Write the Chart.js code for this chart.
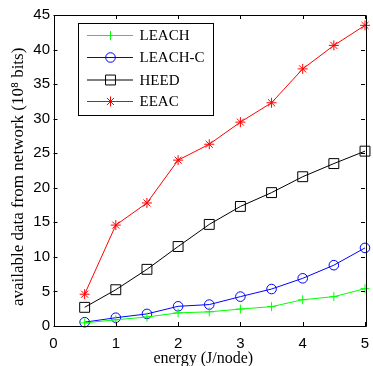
<!DOCTYPE html>
<html>
<head>
<meta charset="utf-8">
<script src="https://cdn.jsdelivr.net/npm/chart.js@4.4.1/dist/chart.umd.min.js"></script>
<style>
html,body{margin:0;padding:0;background:#fff;}
#c{display:block;}
</style>
</head>
<body>
<canvas id="c" width="373" height="366"></canvas>
<script>
const energy = [0.5, 1, 1.5, 2, 2.5, 3, 3.5, 4, 4.5, 5];
const leach  = [0.45, 0.9, 1.3, 1.9, 2.05, 2.45, 2.8, 3.8, 4.25, 5.4];
const leachC = [0.55, 1.2, 1.75, 2.85, 3.1, 4.25, 5.35, 6.9, 8.8, 11.3];
const heed   = [2.7, 5.25, 8.2, 11.5, 14.7, 17.3, 19.3, 21.6, 23.5, 25.3];
const eeac   = [4.6, 14.6, 17.8, 24.0, 26.3, 29.5, 32.3, 37.2, 40.6, 43.5];
const seriesNames = ["LEACH", "LEACH-C", "HEED", "EEAC"];
const xTicks = [0, 1, 2, 3, 4, 5];
const yTicks = [0, 5, 10, 15, 20, 25, 30, 35, 40, 45];
const xTitle = "energy (J/node)   ";
const yTitle = "available data from network (10\u2078 bits)   ";

function pts(ys){ return energy.map((x,i)=>({x:x, y:ys[i]})); }

const styles = [
  {color:'#00ff00', pointStyle:'cross', radius:4.5},
  {color:'#0000ff', pointStyle:'circle', radius:4.8},
  {color:'#000000', pointStyle:'rect', radius:7},
  {color:'#ff0000', pointStyle:'star', radius:5}
];
const allData = [leach, leachC, heed, eeac];

const datasets = allData.map((d,i)=>({
  label: seriesNames[i],
  data: pts(d),
  borderColor: styles[i].color,
  backgroundColor: 'rgba(0,0,0,0)',
  pointBorderColor: styles[i].color,
  pointBackgroundColor: 'rgba(0,0,0,0)',
  pointStyle: styles[i].pointStyle,
  pointRadius: styles[i].radius,
  pointBorderWidth: 1,
  borderWidth: 1,
  tension: 0,
  clip: false
}));

const framePlugin = {
  id: 'frame',
  afterDatasetsDraw(chart){
    const ctx = chart.ctx;
    const a = chart.chartArea;
    const xs = chart.scales.x, ys = chart.scales.y;
    ctx.save();
    ctx.strokeStyle = '#000';
    ctx.lineWidth = 1;
    ctx.beginPath();
    ctx.rect(Math.round(a.left)+0.5, Math.round(a.top)+0.5, Math.round(a.right-a.left), Math.round(a.bottom-a.top));
    ctx.stroke();
    const tl = 4;
    ctx.beginPath();
    xTicks.forEach(v=>{
      const px = Math.round(xs.getPixelForValue(v))+0.5;
      ctx.moveTo(px, a.bottom); ctx.lineTo(px, a.bottom - tl);
      ctx.moveTo(px, a.top); ctx.lineTo(px, a.top + tl);
    });
    yTicks.forEach(v=>{
      const py = Math.round(ys.getPixelForValue(v))+0.5;
      ctx.moveTo(a.left, py); ctx.lineTo(a.left + tl, py);
      ctx.moveTo(a.right, py); ctx.lineTo(a.right - tl, py);
    });
    ctx.stroke();

    // legend
    const bx = 78.5, by = 23.5, bw = 135, bh = 92;
    ctx.fillStyle = '#fff';
    ctx.fillRect(bx, by, bw, bh);
    ctx.strokeStyle = '#000';
    ctx.strokeRect(bx, by, bw, bh);
    const rowY = [35.5, 57.5, 80, 101.5];
    chart.data.datasets.forEach((ds,i)=>{
      const y = rowY[i];
      ctx.strokeStyle = ds.borderColor;
      ctx.lineWidth = 1;
      ctx.beginPath();
      ctx.moveTo(87, y); ctx.lineTo(133, y);
      ctx.stroke();
      ctx.fillStyle = 'rgba(0,0,0,0)';
      Chart.helpers.drawPoint(ctx, {pointStyle: ds.pointStyle, radius: ds.pointRadius, rotation: 0, borderWidth: 1}, 110.5, y);
      ctx.fillStyle = '#000';
      ctx.font = '15px "Liberation Serif", "Times New Roman", serif';
      ctx.textAlign = 'left';
      ctx.textBaseline = 'middle';
      ctx.fillText(ds.label, 139.5, y + 1);
    });
    ctx.restore();
  }
};

new Chart(document.getElementById('c'), {
  type: 'line',
  data: { datasets: datasets },
  options: {
    responsive: false,
    animation: false,
    events: [],
    layout: { padding: { top: 15, right: 5, left: 0, bottom: 0 } },
    plugins: { legend: { display: false }, tooltip: { enabled: false } },
    scales: {
      x: {
        type: 'linear', min: 0, max: 5,
        afterBuildTicks(s){ s.ticks = xTicks.map(v=>({value:v})); },
        afterFit(s){ s.height = 40; s.paddingLeft = 0; s.paddingRight = 0; },
        grid: { display: false, drawTicks: false },
        border: { display: false },
        ticks: { color: '#000', padding: 9, maxRotation: 0, autoSkip: false,
                 font: { family: '"Liberation Sans", Arial, sans-serif', size: 15 } },
        title: { display: true, text: xTitle, color: '#000', padding: { top: 0, bottom: -2 },
                 font: { family: '"Liberation Serif", "Times New Roman", serif', size: 16 } }
      },
      y: {
        type: 'linear', min: 0, max: 45,
        afterBuildTicks(s){ s.ticks = yTicks.map(v=>({value:v})); },
        afterFit(s){ s.width = 53.5; s.paddingTop = 0; s.paddingBottom = 0; },
        grid: { display: false, drawTicks: false },
        border: { display: false },
        ticks: { color: '#000', padding: 3.5, autoSkip: false,
                 font: { family: '"Liberation Sans", Arial, sans-serif', size: 15 } },
        title: { display: true, text: yTitle, color: '#000', padding: { top: 8, bottom: 0 },
                 font: { family: '"Liberation Serif", "Times New Roman", serif', size: 17 } }
      }
    }
  },
  plugins: [framePlugin]
});
</script>
</body>
</html>
